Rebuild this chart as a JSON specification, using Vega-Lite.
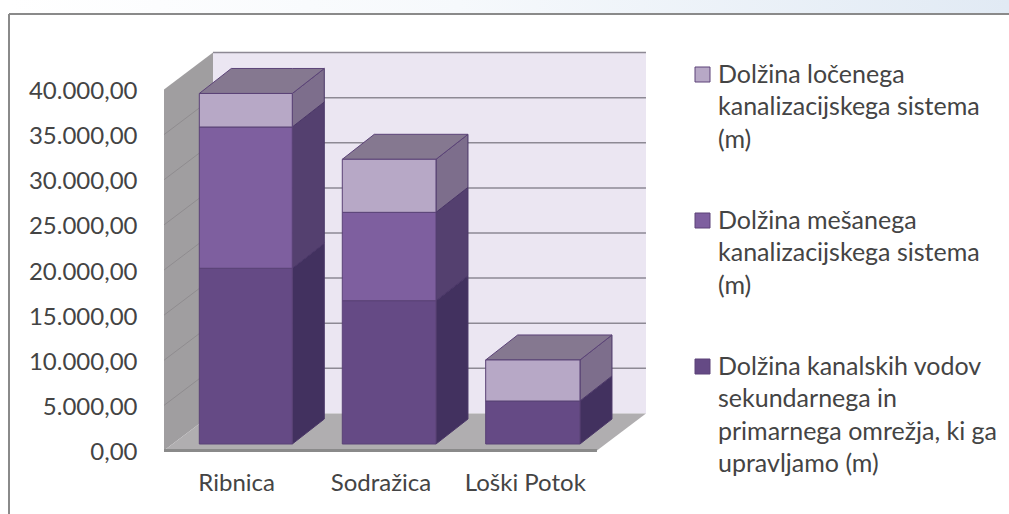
{"$schema":"https://vega.github.io/schema/vega-lite/v6.json","width":1000,"height":500,"autosize":"none","padding":{"left":9,"top":14,"right":0,"bottom":0},"background":"#ffffff","config":{"view":{"stroke":null,"fill":"#ffffff"},"font":"Lato","axis":{"grid":false,"domain":false,"ticks":false}},"datasets":{"segments":[{"city":"Ribnica","series":"Dolžina kanalskih vodov|sekundarnega in|primarnega omrežja, ki ga|upravljamo (m)","order":1,"left":0.7446,"right":1.3889,"value":19470},{"city":"Ribnica","series":"Dolžina mešanega|kanalizacijskega sistema|(m)","order":2,"left":0.7446,"right":1.3889,"value":15655},{"city":"Ribnica","series":"Dolžina ločenega|kanalizacijskega sistema|(m)","order":3,"left":0.7446,"right":1.3889,"value":3715},{"city":"Sodražica","series":"Dolžina kanalskih vodov|sekundarnega in|primarnega omrežja, ki ga|upravljamo (m)","order":1,"left":1.7354,"right":2.3846,"value":15880},{"city":"Sodražica","series":"Dolžina mešanega|kanalizacijskega sistema|(m)","order":2,"left":1.7354,"right":2.3846,"value":9790},{"city":"Sodražica","series":"Dolžina ločenega|kanalizacijskega sistema|(m)","order":3,"left":1.7354,"right":2.3846,"value":5875},{"city":"Loški Potok","series":"Dolžina kanalskih vodov|sekundarnega in|primarnega omrežja, ki ga|upravljamo (m)","order":1,"left":2.7289,"right":3.3823,"value":4765},{"city":"Loški Potok","series":"Dolžina ločenega|kanalizacijskega sistema|(m)","order":3,"left":2.7289,"right":3.3823,"value":4545}],"sides":[{"face":"R1","level":"a","x":1.3889,"low":0,"high":19470},{"face":"R1","level":"a","x":1.6106,"low":2770,"high":22240},{"face":"R2","level":"b","x":1.3889,"low":19470,"high":35125},{"face":"R2","level":"b","x":1.6106,"low":22240,"high":37895},{"face":"R3","level":"c","x":1.3889,"low":35125,"high":38840},{"face":"R3","level":"c","x":1.6106,"low":37895,"high":41610},{"face":"S1","level":"a","x":2.3846,"low":0,"high":15880},{"face":"S1","level":"a","x":2.6063,"low":2770,"high":18650},{"face":"S2","level":"b","x":2.3846,"low":15880,"high":25670},{"face":"S2","level":"b","x":2.6063,"low":18650,"high":28440},{"face":"S3","level":"c","x":2.3846,"low":25670,"high":31545},{"face":"S3","level":"c","x":2.6063,"low":28440,"high":34315},{"face":"L1","level":"a","x":3.3823,"low":0,"high":4765},{"face":"L1","level":"a","x":3.604,"low":2770,"high":7535},{"face":"L3","level":"c","x":3.3823,"low":4765,"high":9310},{"face":"L3","level":"c","x":3.604,"low":7535,"high":12080}],"tops":[{"face":"R","x":0.7446,"low":38840,"high":38840},{"face":"R","x":0.9663,"low":38840,"high":41610},{"face":"R","x":1.3889,"low":38840,"high":41610},{"face":"R","x":1.6106,"low":41610,"high":41610},{"face":"S","x":1.7354,"low":31545,"high":31545},{"face":"S","x":1.9571,"low":31545,"high":34315},{"face":"S","x":2.3846,"low":31545,"high":34315},{"face":"S","x":2.6063,"low":34315,"high":34315},{"face":"L","x":2.7289,"low":9310,"high":9310},{"face":"L","x":2.9506,"low":9310,"high":12080},{"face":"L","x":3.3823,"low":9310,"high":12080},{"face":"L","x":3.604,"low":12080,"high":12080}],"walls":[{"part":"left","x":0.5,"low":0,"high":40000},{"part":"left","x":0.8395,"low":4100,"high":44100},{"part":"back","x":0.8395,"low":4100,"high":44100},{"part":"back","x":3.8396,"low":4100,"high":44100},{"part":"floor","x":0.5,"low":0,"high":0},{"part":"floor","x":0.8395,"low":0,"high":4100},{"part":"floor","x":3.5,"low":0,"high":4100},{"part":"floor","x":3.8396,"low":4100,"high":4100}],"grid":[{"v":5000,"part":"left","x":0.5,"y":5000},{"v":5000,"part":"left","x":0.8395,"y":9100},{"v":10000,"part":"left","x":0.5,"y":10000},{"v":10000,"part":"left","x":0.8395,"y":14100},{"v":15000,"part":"left","x":0.5,"y":15000},{"v":15000,"part":"left","x":0.8395,"y":19100},{"v":20000,"part":"left","x":0.5,"y":20000},{"v":20000,"part":"left","x":0.8395,"y":24100},{"v":25000,"part":"left","x":0.5,"y":25000},{"v":25000,"part":"left","x":0.8395,"y":29100},{"v":30000,"part":"left","x":0.5,"y":30000},{"v":30000,"part":"left","x":0.8395,"y":34100},{"v":35000,"part":"left","x":0.5,"y":35000},{"v":35000,"part":"left","x":0.8395,"y":39100},{"v":5000,"part":"back","x":0.8395,"y":9100},{"v":5000,"part":"back","x":3.8396,"y":9100},{"v":10000,"part":"back","x":0.8395,"y":14100},{"v":10000,"part":"back","x":3.8396,"y":14100},{"v":15000,"part":"back","x":0.8395,"y":19100},{"v":15000,"part":"back","x":3.8396,"y":19100},{"v":20000,"part":"back","x":0.8395,"y":24100},{"v":20000,"part":"back","x":3.8396,"y":24100},{"v":25000,"part":"back","x":0.8395,"y":29100},{"v":25000,"part":"back","x":3.8396,"y":29100},{"v":30000,"part":"back","x":0.8395,"y":34100},{"v":30000,"part":"back","x":3.8396,"y":34100},{"v":35000,"part":"back","x":0.8395,"y":39100},{"v":35000,"part":"back","x":3.8396,"y":39100},{"v":40000,"part":"back","x":0.8395,"y":44100},{"v":40000,"part":"back","x":3.8396,"y":44100}],"edge":[{"x":0.5,"y":0},{"x":3.5,"y":0}]},"layer":[{"mark":{"type":"rect","clip":false,"fill":{"gradient":"linear","x1":0,"y1":0,"x2":1,"y2":0,"stops":[{"offset":0,"color":"#ffffff"},{"offset":0.45,"color":"#f6f9fc"},{"offset":1,"color":"#e1eaf4"}]}},"data":{"values":[{"a":-0.574,"b":6.355,"c":48366,"d":49917}]},"encoding":{"x":{"field":"a","type":"quantitative","title":null,"scale":{"domain":[-0.574,6.355],"nice":false,"zero":false},"axis":{"values":[1,2,3],"orient":"bottom","offset":-43,"labelPadding":0,"labelFontSize":24,"labelColor":"#444444","labelFont":"Lato","labelExpr":"datum.value==1?'Ribnica':datum.value==2?'Sodražica':'Loški Potok'"}},"x2":{"field":"b"},"y":{"field":"c","type":"quantitative","title":null,"stack":null,"scale":{"domain":[-7036,48366],"nice":false,"zero":false},"axis":{"values":[0,5000,10000,15000,20000,25000,30000,35000,40000],"orient":"left","offset":-128,"labelPadding":0,"labelOffset":2,"labelFontSize":24,"labelColor":"#444444","labelFont":"Lato","labelExpr":"replace(format(datum.value,',.0f'),/,/g,'.')+',00'"}},"y2":{"field":"d"}}},{"mark":{"type":"rule","clip":false,"color":"#8a8a8a","strokeWidth":2},"data":{"values":[{"a":-0.574,"b":6.355,"c":48366}]},"encoding":{"x":{"field":"a","type":"quantitative","title":null,"scale":{"domain":[-0.574,6.355],"nice":false,"zero":false}},"x2":{"field":"b"},"y":{"field":"c","type":"quantitative","title":null,"stack":null,"scale":{"domain":[-7036,48366],"nice":false,"zero":false}}}},{"mark":{"type":"rule","clip":false,"color":"#8a8a8a","strokeWidth":2},"data":{"values":[{"a":-0.574,"c":48366,"d":-7036}]},"encoding":{"x":{"field":"a","type":"quantitative","title":null,"scale":{"domain":[-0.574,6.355],"nice":false,"zero":false}},"y":{"field":"c","type":"quantitative","title":null,"stack":null,"scale":{"domain":[-7036,48366],"nice":false,"zero":false}},"y2":{"field":"d"}}},{"mark":{"type":"area","color":"#a09ea0","line":false},"data":{"name":"walls"},"transform":[{"filter":"datum.part=='left'"}],"encoding":{"x":{"field":"x","type":"quantitative","title":null,"scale":{"domain":[-0.574,6.355],"nice":false,"zero":false}},"y":{"field":"high","type":"quantitative","title":null,"stack":null,"scale":{"domain":[-7036,48366],"nice":false,"zero":false}},"y2":{"field":"low"}}},{"mark":{"type":"area","color":"#ebe6f2"},"data":{"name":"walls"},"transform":[{"filter":"datum.part=='back'"}],"encoding":{"x":{"field":"x","type":"quantitative","title":null,"scale":{"domain":[-0.574,6.355],"nice":false,"zero":false}},"y":{"field":"high","type":"quantitative","title":null,"stack":null,"scale":{"domain":[-7036,48366],"nice":false,"zero":false}},"y2":{"field":"low"}}},{"mark":{"type":"line","color":"#8f8c8f","strokeWidth":1},"data":{"name":"grid"},"transform":[{"filter":"datum.part=='left'"}],"encoding":{"x":{"field":"x","type":"quantitative","title":null,"scale":{"domain":[-0.574,6.355],"nice":false,"zero":false}},"y":{"field":"y","type":"quantitative","title":null,"stack":null,"scale":{"domain":[-7036,48366],"nice":false,"zero":false}},"detail":{"field":"v"}}},{"mark":{"type":"line","color":"#8d8994","strokeWidth":1.5},"data":{"name":"grid"},"transform":[{"filter":"datum.part=='back'"}],"encoding":{"x":{"field":"x","type":"quantitative","title":null,"scale":{"domain":[-0.574,6.355],"nice":false,"zero":false}},"y":{"field":"y","type":"quantitative","title":null,"stack":null,"scale":{"domain":[-7036,48366],"nice":false,"zero":false}},"detail":{"field":"v"}}},{"mark":{"type":"area","color":"#b0aeb0"},"data":{"name":"walls"},"transform":[{"filter":"datum.part=='floor'"}],"encoding":{"x":{"field":"x","type":"quantitative","title":null,"scale":{"domain":[-0.574,6.355],"nice":false,"zero":false}},"y":{"field":"high","type":"quantitative","title":null,"stack":null,"scale":{"domain":[-7036,48366],"nice":false,"zero":false}},"y2":{"field":"low"}}},{"mark":{"type":"line","color":"#8a8a8a","strokeWidth":3},"data":{"name":"edge"},"encoding":{"x":{"field":"x","type":"quantitative","title":null,"scale":{"domain":[-0.574,6.355],"nice":false,"zero":false}},"y":{"field":"y","type":"quantitative","title":null,"stack":null,"scale":{"domain":[-7036,48366],"nice":false,"zero":false}}}},{"mark":{"type":"area","yOffset":-6.5,"y2Offset":-6.5,"stroke":"#4b3768","strokeWidth":1},"data":{"name":"sides"},"encoding":{"x":{"field":"x","type":"quantitative","title":null,"scale":{"domain":[-0.574,6.355],"nice":false,"zero":false}},"y":{"field":"high","type":"quantitative","title":null,"stack":null,"scale":{"domain":[-7036,48366],"nice":false,"zero":false}},"y2":{"field":"low"},"detail":{"field":"face"},"color":{"field":"level","type":"nominal","legend":null,"scale":{"domain":["a","b","c"],"range":["#42315f","#54406f","#7d6e8c"]}}}},{"mark":{"type":"area","color":"#857890","yOffset":-6.5,"y2Offset":-6.5,"stroke":"#5c4378","strokeWidth":1},"data":{"name":"tops"},"encoding":{"x":{"field":"x","type":"quantitative","title":null,"scale":{"domain":[-0.574,6.355],"nice":false,"zero":false}},"y":{"field":"high","type":"quantitative","title":null,"stack":null,"scale":{"domain":[-7036,48366],"nice":false,"zero":false}},"y2":{"field":"low"},"detail":{"field":"face"}}},{"mark":{"type":"rect","yOffset":-6.5,"y2Offset":-6.5,"stroke":"#5a4276","strokeWidth":1},"data":{"name":"segments"},"transform":[{"stack":"value","groupby":["city"],"sort":[{"field":"order","order":"ascending"}],"as":["low","high"]}],"encoding":{"x":{"field":"left","type":"quantitative","title":null,"scale":{"domain":[-0.574,6.355],"nice":false,"zero":false}},"x2":{"field":"right"},"y":{"field":"high","type":"quantitative","title":null,"stack":null,"scale":{"domain":[-7036,48366],"nice":false,"zero":false}},"y2":{"field":"low"},"color":{"field":"series","type":"nominal","scale":{"domain":["Dolžina ločenega|kanalizacijskega sistema|(m)","Dolžina mešanega|kanalizacijskega sistema|(m)","Dolžina kanalskih vodov|sekundarnega in|primarnega omrežja, ki ga|upravljamo (m)"],"range":["#b7a8c6","#7e5f9f","#654a85"]},"legend":{"orient":"none","legendX":681,"legendY":48,"title":null,"symbolType":"square","symbolSize":225,"symbolStrokeColor":"#5c4378","symbolStrokeWidth":1,"labelFontSize":25,"labelFont":"Lato","labelColor":"#444444","labelLimit":320,"labelOffset":3,"rowPadding":55,"labelExpr":"split(datum.label,'|')","encoding":{"labels":{"lineHeight":{"value":32.5}}}}}}}],"resolve":{"scale":{"color":"independent"}}}
